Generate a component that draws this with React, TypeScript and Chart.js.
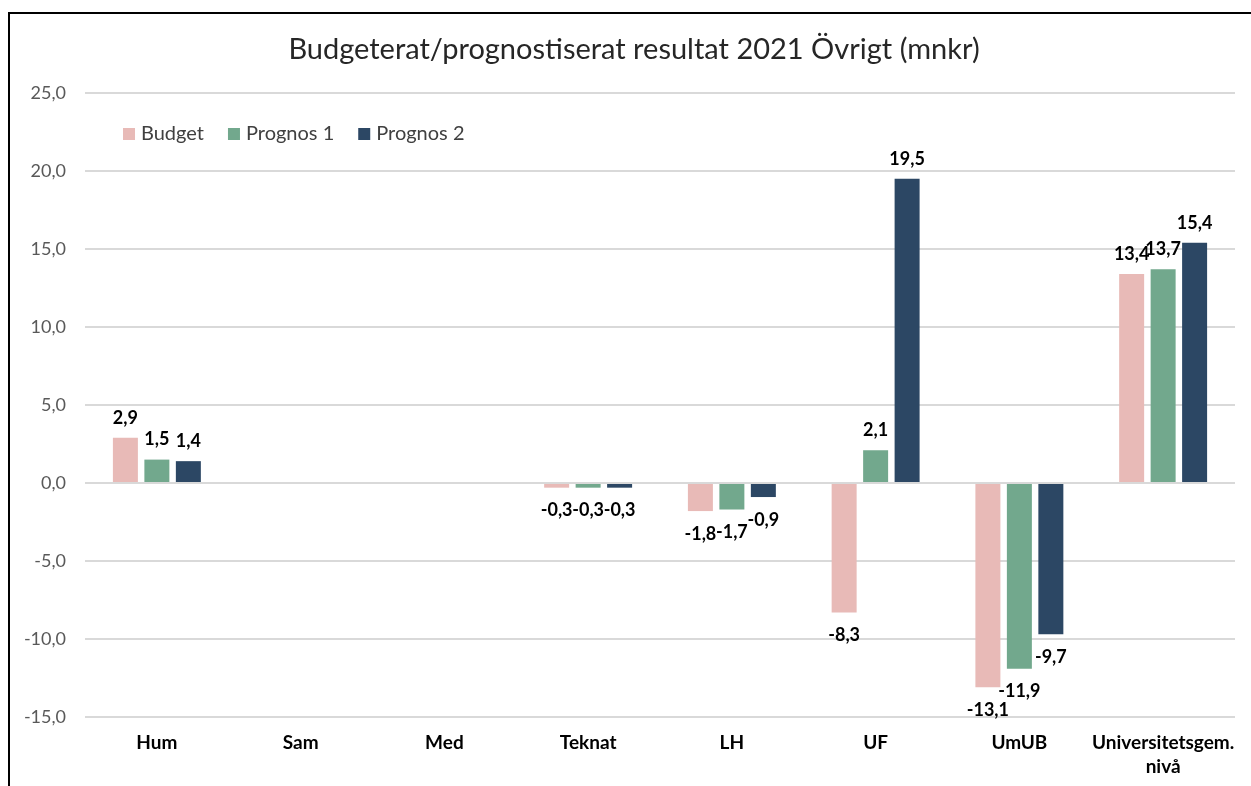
import React, { useEffect, useRef } from "react";
import { Chart, registerables } from "chart.js";

Chart.register(...registerables);

const TITLE = "Budgeterat/prognostiserat resultat 2021 Övrigt (mnkr)";
const categories: (string | string[])[] = ["Hum", "Sam", "Med", "Teknat", "LH", "UF", "UmUB", ["Universitetsgem.", "nivå"]];
const budget: (number | null)[] = [2.9, null, null, -0.3, -1.8, -8.3, -13.1, 13.4];
const prognos1: (number | null)[] = [1.5, null, null, -0.3, -1.7, 2.1, -11.9, 13.7];
const prognos2: (number | null)[] = [1.4, null, null, -0.3, -0.9, 19.5, -9.7, 15.4];
const seriesNames = ["Budget", "Prognos 1", "Prognos 2"];
const seriesColors = ["#E8BAB7", "#72A88D", "#2C4764"];
const yMin = -15;
const yMax = 25;
const yStep = 5;

const FONT = "Lato, 'Open Sans', sans-serif";
const fmt = (v: number) => v.toFixed(1).replace(".", ",");

const titlePlugin = {
  id: "customTitle",
  afterDraw(chart: any) {
    const ctx = chart.ctx;
    ctx.save();
    ctx.font = `29px ${FONT}`;
    ctx.fillStyle = "#262626";
    ctx.textAlign = "center";
    ctx.textBaseline = "middle";
    ctx.fillText(TITLE, 634, 50);
    ctx.restore();
  },
};

const legendPlugin = {
  id: "customLegend",
  afterDraw(chart: any) {
    const ctx = chart.ctx;
    ctx.save();
    ctx.font = `20px ${FONT}`;
    ctx.textBaseline = "middle";
    ctx.textAlign = "left";
    let x = 123;
    const y = 134;
    chart.data.datasets.forEach((ds: any) => {
      ctx.fillStyle = ds.backgroundColor;
      ctx.fillRect(x, y - 6, 12, 12);
      x += 18;
      ctx.fillStyle = "#404040";
      ctx.fillText(ds.label, x, y);
      x += ctx.measureText(ds.label).width + 24;
    });
    ctx.restore();
  },
};

const dataLabelPlugin = {
  id: "dataLabels",
  afterDatasetsDraw(chart: any) {
    const ctx = chart.ctx;
    ctx.save();
    ctx.font = `bold 18px ${FONT}`;
    ctx.fillStyle = "#000000";
    ctx.textAlign = "center";
    ctx.textBaseline = "middle";
    chart.data.datasets.forEach((ds: any, di: number) => {
      const meta = chart.getDatasetMeta(di);
      meta.data.forEach((el: any, i: number) => {
        const v = ds.data[i];
        if (v === null || v === undefined) return;
        const y = v >= 0 ? el.y - 20 : el.y + 23;
        ctx.fillText(fmt(v), el.x, y);
      });
    });
    ctx.restore();
  },
};

export default function App() {
  const ref = useRef<HTMLCanvasElement | null>(null);

  useEffect(() => {
    if (!ref.current) return;
    const data = [budget, prognos1, prognos2];
    const chart = new Chart(ref.current, {
      type: "bar",
      data: {
        labels: categories,
        datasets: data.map((d, i) => ({
          label: seriesNames[i],
          data: d,
          backgroundColor: seriesColors[i],
          borderWidth: 0,
          categoryPercentage: 0.657,
          barPercentage: 0.794,
        })),
      },
      options: {
        animation: false,
        responsive: false,
        maintainAspectRatio: false,
        layout: { padding: { top: 93, left: 0, right: 16, bottom: 0 } },
        plugins: {
          legend: { display: false },
          title: { display: false },
          tooltip: { enabled: false },
        },
        scales: {
          x: {
            grid: { display: false, drawTicks: false },
            border: { display: false },
            ticks: {
              color: "#000000",
              font: { family: FONT, size: 19, weight: "bold", lineHeight: 1.27 },
              padding: 14,
              maxRotation: 0,
              autoSkip: false,
            },
            afterFit(scale: any) {
              scale.height = 69;
            },
          },
          y: {
            min: yMin,
            max: yMax,
            grid: { color: "#D9D9D9", lineWidth: 2, drawTicks: false },
            border: { display: false },
            ticks: {
              stepSize: yStep,
              color: "#595959",
              font: { family: FONT, size: 18 },
              padding: 19,
              callback: (v: any) => fmt(Number(v)),
            },
            afterFit(scale: any) {
              scale.width = 85;
            },
          },
        },
      },
      plugins: [titlePlugin, legendPlugin, dataLabelPlugin],
    });
    return () => chart.destroy();
  }, []);

  return (
    <div style={{ position: "fixed", left: 0, top: 0, width: 1251, height: 786, background: "#fff", overflow: "hidden" }}>
      <div
        style={{
          position: "absolute",
          left: 8,
          top: 12,
          width: 1300,
          height: 900,
          borderTop: "2.5px solid #000",
          borderLeft: "2.5px solid #000",
        }}
      />
      <canvas ref={ref} width={1251} height={786} style={{ position: "absolute", left: 0, top: 0 }} />
    </div>
  );
}
